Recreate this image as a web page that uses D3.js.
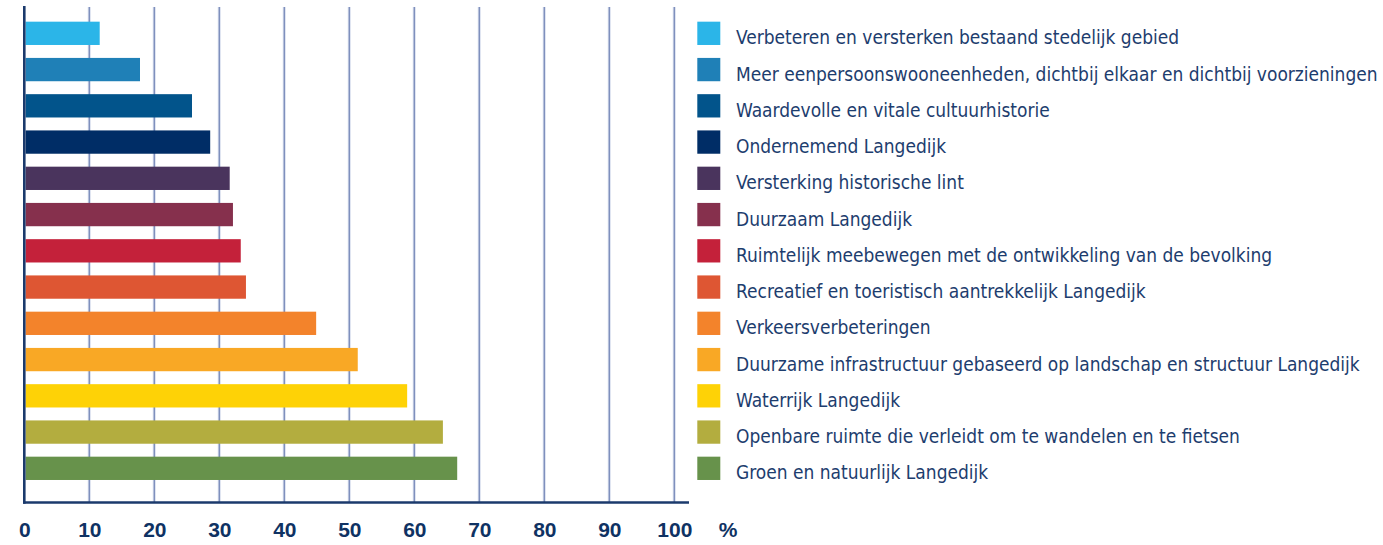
<!DOCTYPE html>
<html>
<head>
<meta charset="utf-8">
<script src="https://cdn.jsdelivr.net/npm/d3@7"></script>
<style>
  html, body { margin: 0; padding: 0; background: #fff; }
  svg { display: block; }
</style>
</head>
<body>
<svg id="chart" width="1383" height="545"></svg>
<script>
// ---- data ----
const categories = [
  "Verbeteren en versterken bestaand stedelijk gebied",
  "Meer eenpersoonswooneenheden, dichtbij elkaar en dichtbij voorzieningen",
  "Waardevolle en vitale cultuurhistorie",
  "Ondernemend Langedijk",
  "Versterking historische lint",
  "Duurzaam Langedijk",
  "Ruimtelijk meebewegen met de ontwikkeling van de bevolking",
  "Recreatief en toeristisch aantrekkelijk Langedijk",
  "Verkeersverbeteringen",
  "Duurzame infrastructuur gebaseerd op landschap en structuur Langedijk",
  "Waterrijk Langedijk",
  "Openbare ruimte die verleidt om te wandelen en te fietsen",
  "Groen en natuurlijk Langedijk"
];
const values = [11.6, 17.8, 25.8, 28.6, 31.6, 32.1, 33.3, 34.1, 44.9, 51.3, 58.9, 64.4, 66.6];
const colors = ["#2bb5e8", "#1f80b7", "#02548b", "#002d66", "#4a345d", "#86304d",
                "#c4213a", "#de5633", "#f3832b", "#f9a825", "#fed206", "#b3ad3f", "#67924b"];
const tickValues = [0, 10, 20, 30, 40, 50, 60, 70, 80, 90, 100];
const unitLabel = "%";

// ---- layout ----
const svg = d3.select("#chart");
const x = d3.scaleLinear().domain([0, 100]).range([24.3, 674.3]);
const y = d3.scaleBand().domain(categories).range([15.2, 486.45])
  .paddingInner(0.357).paddingOuter(0.1785);
const axisY = 502.5, gridTop = 7, axisRight = 689;
const navy = "#1b3a6c";

// gridlines
const grid = svg.append("g");
const gridVals = tickValues.filter(d => d > 0);
grid.selectAll("line.halo").data(gridVals).join("line")
  .attr("class", "halo")
  .attr("x1", d => x(d)).attr("x2", d => x(d))
  .attr("y1", gridTop).attr("y2", axisY)
  .attr("stroke", "#dde3f0").attr("stroke-width", 3.2);
grid.selectAll("line.g").data(gridVals).join("line")
  .attr("class", "g")
  .attr("x1", d => x(d)).attr("x2", d => x(d))
  .attr("y1", gridTop).attr("y2", axisY)
  .attr("stroke", "#7f90bd").attr("stroke-width", 1.4);

// bars
svg.append("g").selectAll("rect").data(categories).join("rect")
  .attr("x", x(0) + 1.3)
  .attr("y", d => y(d))
  .attr("width", (d, i) => x(values[i]) - x(0) - 1.3)
  .attr("height", y.bandwidth())
  .attr("fill", (d, i) => colors[i]);

// axes lines
svg.append("line")
  .attr("x1", x(0)).attr("x2", x(0)).attr("y1", gridTop - 1).attr("y2", axisY + 1.2)
  .attr("stroke", navy).attr("stroke-width", 2.6);
svg.append("line")
  .attr("x1", x(0) - 1.2).attr("x2", axisRight).attr("y1", axisY).attr("y2", axisY)
  .attr("stroke", navy).attr("stroke-width", 2.6);

// x tick labels via d3 axis
const xAxis = d3.axisBottom(x).tickValues(tickValues).tickSize(0).tickPadding(0).tickFormat(d3.format("d"));
const ax = svg.append("g").attr("transform", `translate(0, ${axisY})`).call(xAxis);
ax.select(".domain").remove();
ax.selectAll("text")
  .attr("dy", null).attr("y", 34)
  .attr("fill", "#0f3263")
  .style("font-family", "'Liberation Sans', Arial, sans-serif")
  .style("font-weight", "bold")
  .style("font-size", "21px");
svg.append("text")
  .attr("x", 728).attr("y", axisY + 34)
  .attr("text-anchor", "middle")
  .attr("fill", "#0f3263")
  .style("font-family", "'Liberation Sans', Arial, sans-serif")
  .style("font-weight", "bold")
  .style("font-size", "21px")
  .text(unitLabel);

// legend
const legX = 736, legRight = 1378;
const leg = svg.append("g");
leg.selectAll("rect").data(categories).join("rect")
  .attr("x", 697.3).attr("y", d => y(d))
  .attr("width", 23).attr("height", y.bandwidth())
  .attr("fill", (d, i) => colors[i]);
const lt = leg.selectAll("text").data(categories).join("text")
  .attr("x", 0).attr("y", 0)
  .attr("dy", "0.55em")
  .attr("fill", "#1d3d6e")
  .style("font-family", "'DejaVu Sans Condensed', 'Liberation Sans Narrow', sans-serif")
  .style("font-stretch", "condensed")
  .style("font-size", "20px")
  .text(d => d);
let maxW = 0;
lt.each(function() { maxW = Math.max(maxW, this.getComputedTextLength()); });
const sx = Math.min(1, (legRight - legX) / maxW);
lt.attr("transform", d => `translate(${legX}, ${y(d) + y.bandwidth() / 2}) scale(${sx}, 1)`);
</script>
</body>
</html>
